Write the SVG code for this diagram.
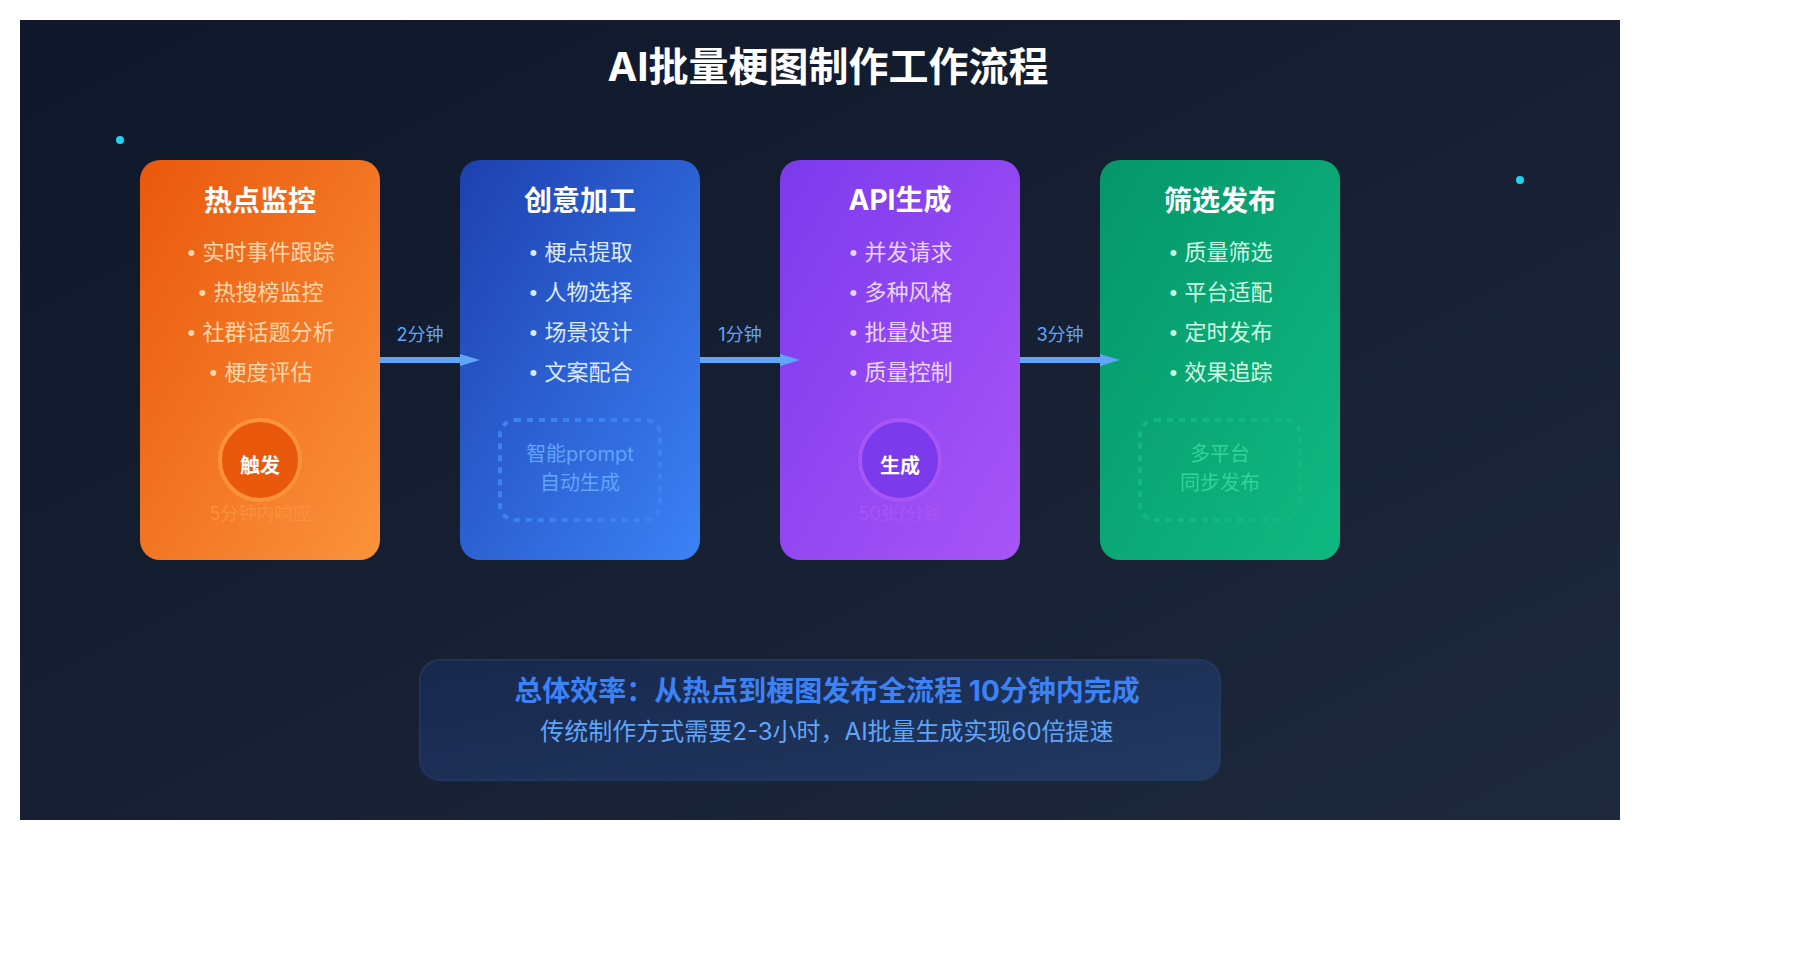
<svg xmlns="http://www.w3.org/2000/svg" width="1800" height="960" viewBox="0 0 1800 960">
<defs>
<linearGradient id="bg" x1="0" y1="0" x2="1" y2="1"><stop offset="0" stop-color="#0f172a"/><stop offset="1" stop-color="#1e293b"/></linearGradient>
<linearGradient id="gO" x1="0" y1="0" x2="1" y2="1"><stop offset="0" stop-color="#ea580c"/><stop offset="1" stop-color="#fb923c"/></linearGradient>
<linearGradient id="gB" x1="0" y1="0" x2="1" y2="1"><stop offset="0" stop-color="#1e40af"/><stop offset="1" stop-color="#3b82f6"/></linearGradient>
<linearGradient id="gP" x1="0" y1="0" x2="1" y2="1"><stop offset="0" stop-color="#7c3aed"/><stop offset="1" stop-color="#a855f7"/></linearGradient>
<linearGradient id="gG" x1="0" y1="0" x2="1" y2="1"><stop offset="0" stop-color="#059669"/><stop offset="1" stop-color="#10b981"/></linearGradient>
<marker id="arrow" markerUnits="userSpaceOnUse" markerWidth="20" markerHeight="12" refX="0" refY="6" orient="auto"><polygon points="0,0 20,6 0,12" fill="#60a5fa"/></marker>
</defs>
<style>
text{font-family:Inter,"Noto Sans CJK SC",sans-serif;text-anchor:middle}
.t{font-size:28px;font-weight:700;fill:#fff}
.i{font-size:22px}
.bu{font-family:"Liberation Sans",sans-serif}
.o .i{fill:#fed7aa}.b .i{fill:#dbeafe}.p .i{fill:#e9d5ff}.g .i{fill:#d1fae5}
.c{font-size:20px;font-weight:700;fill:#fff}
.n{font-size:18px}
.d{font-size:20px}
.box{fill:none;stroke-width:4;stroke-dasharray:6 6}
.lab{font-size:18px;fill:#60a5fa}
.ln{stroke:#60a5fa;stroke-width:6;fill:none;marker-end:url(#arrow)}
</style>
<rect x="20" y="20" width="1600" height="800" fill="url(#bg)"/>
<text x="828" y="81" font-size="40" font-weight="700" fill="#fff">AI批量梗图制作工作流程</text>
<g id="decor"><circle cx="120" cy="140" r="4" fill="#22d3ee"/><circle cx="1520" cy="180" r="4" fill="#22d3ee"/></g>
<g id="node-hot" class="o">
<rect x="140" y="160" width="240" height="400" rx="20" fill="url(#gO)"/>
<text class="t" x="260" y="211">热点监控</text>
<text class="i" x="260" y="260"><tspan class="bu" dx="1">•</tspan><tspan dx="1"> 实时事件跟踪</tspan></text>
<text class="i" x="260" y="300"><tspan class="bu" dx="1">•</tspan><tspan dx="1"> 热搜榜监控</tspan></text>
<text class="i" x="260" y="340"><tspan class="bu" dx="1">•</tspan><tspan dx="1"> 社群话题分析</tspan></text>
<text class="i" x="260" y="380"><tspan class="bu" dx="1">•</tspan><tspan dx="1"> 梗度评估</tspan></text>
<circle cx="260" cy="460" r="40" fill="#ea580c" stroke="#fb923c" stroke-width="4"/>
<text class="c" x="260" y="473">触发</text>
<text class="n" x="260" y="520" fill="#fb923c">5分钟内响应</text>
</g>
<g id="node-idea" class="b">
<rect x="460" y="160" width="240" height="400" rx="20" fill="url(#gB)"/>
<text class="t" x="580" y="211">创意加工</text>
<text class="i" x="580" y="260"><tspan class="bu" dx="1">•</tspan><tspan dx="1"> 梗点提取</tspan></text>
<text class="i" x="580" y="300"><tspan class="bu" dx="1">•</tspan><tspan dx="1"> 人物选择</tspan></text>
<text class="i" x="580" y="340"><tspan class="bu" dx="1">•</tspan><tspan dx="1"> 场景设计</tspan></text>
<text class="i" x="580" y="380"><tspan class="bu" dx="1">•</tspan><tspan dx="1"> 文案配合</tspan></text>
<rect class="box" x="500" y="420" width="160" height="100" rx="15" stroke="#3b82f6"/>
<text class="d" x="580" y="461" fill="#60a5fa">智能prompt</text><text class="d" x="580" y="490" fill="#60a5fa">自动生成</text>
</g>
<g id="node-api" class="p">
<rect x="780" y="160" width="240" height="400" rx="20" fill="url(#gP)"/>
<text class="t" x="900" y="210">API生成</text>
<text class="i" x="900" y="260"><tspan class="bu" dx="1">•</tspan><tspan dx="1"> 并发请求</tspan></text>
<text class="i" x="900" y="300"><tspan class="bu" dx="1">•</tspan><tspan dx="1"> 多种风格</tspan></text>
<text class="i" x="900" y="340"><tspan class="bu" dx="1">•</tspan><tspan dx="1"> 批量处理</tspan></text>
<text class="i" x="900" y="380"><tspan class="bu" dx="1">•</tspan><tspan dx="1"> 质量控制</tspan></text>
<circle cx="900" cy="460" r="40" fill="#7c3aed" stroke="#a855f7" stroke-width="4"/>
<text class="c" x="900" y="473">生成</text>
<text class="n" x="900" y="520" fill="#a855f7">50张/分钟</text>
</g>
<g id="node-pub" class="g">
<rect x="1100" y="160" width="240" height="400" rx="20" fill="url(#gG)"/>
<text class="t" x="1220" y="211">筛选发布</text>
<text class="i" x="1220" y="260"><tspan class="bu" dx="1">•</tspan><tspan dx="1"> 质量筛选</tspan></text>
<text class="i" x="1220" y="300"><tspan class="bu" dx="1">•</tspan><tspan dx="1"> 平台适配</tspan></text>
<text class="i" x="1220" y="340"><tspan class="bu" dx="1">•</tspan><tspan dx="1"> 定时发布</tspan></text>
<text class="i" x="1220" y="380"><tspan class="bu" dx="1">•</tspan><tspan dx="1"> 效果追踪</tspan></text>
<rect class="box" x="1140" y="420" width="160" height="100" rx="15" stroke="#10b981"/>
<text class="d" x="1220" y="461" fill="#34d399">多平台</text><text class="d" x="1220" y="490" fill="#34d399">同步发布</text>
</g>
<g id="connectors">
<line class="ln" x1="380" y1="360" x2="460" y2="360"/><text class="lab" x="420" y="340.5">2分钟</text>
<line class="ln" x1="700" y1="360" x2="780" y2="360"/><text class="lab" x="740" y="340.5">1分钟</text>
<line class="ln" x1="1020" y1="360" x2="1100" y2="360"/><text class="lab" x="1060" y="340.5">3分钟</text>
</g>
<g id="summary">
<rect x="420" y="660" width="800" height="120" rx="20" fill="url(#gB)" stroke="#3b82f6" stroke-width="2" opacity=".21"/>
<text x="827" y="701" font-size="28" font-weight="700" fill="#3b82f6">总体效率：从热点到梗图发布全流程 10分钟内完成</text>
<text x="827" y="740" font-size="24" fill="#60a5fa">传统制作方式需要2-3小时，AI批量生成实现60倍提速</text>
</g>
</svg>
